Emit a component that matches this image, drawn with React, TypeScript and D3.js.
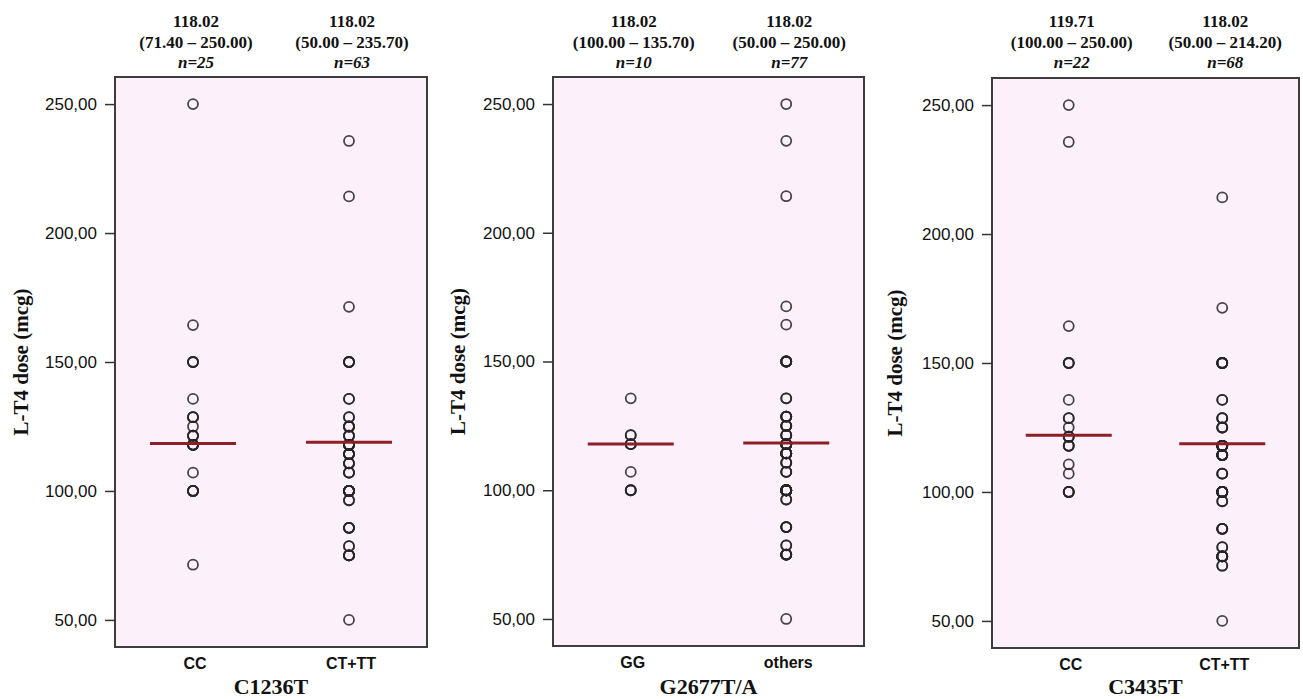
import React, { useEffect, useRef } from "react";
import * as d3 from "d3";

// ---- data ----
const panelTitles = ["C1236T", "G2677T/A", "C3435T"];
const groupLabels = [
  ["CC", "CT+TT"],
  ["GG", "others"],
  ["CC", "CT+TT"],
];
const headerMedians = [
  ["118.02", "118.02"],
  ["118.02", "118.02"],
  ["119.71", "118.02"],
];
const headerRanges = [
  ["(71.40 – 250.00)", "(50.00 – 235.70)"],
  ["(100.00 – 135.70)", "(50.00 – 250.00)"],
  ["(100.00 – 250.00)", "(50.00 – 214.20)"],
];
const headerN = [
  ["n=25", "n=63"],
  ["n=10", "n=77"],
  ["n=22", "n=68"],
];
// median line positions as drawn
const medianLines = [
  [118.4, 118.9],
  [118.0, 118.3],
  [122.0, 118.7],
];

const c1236CC = [250, 164.3, 150, 150, 150, 135.7, 128.6, 128.6, 128.6, 125, 121.4, 121.4, 121.4,
  117.9, 117.9, 117.9, 117.9, 117.9, 107.1, 100, 100, 100, 100, 100, 71.4];
const c1236CTTT = [235.7, 214.2, 171.4, 150, 150, 150, 150, 135.7, 135.7, 128.6, 128.6,
  125, 125, 125, 125, 121.4, 121.4, 121.4, 117.9, 117.9, 117.9, 117.9, 117.9, 117.9, 117.9, 117.9,
  114.3, 114.3, 114.3, 114.3, 114.3, 114.3, 110.7, 110.7, 110.7, 107.1, 107.1, 107.1,
  100, 100, 100, 100, 100, 100, 100, 100, 100, 100, 100, 96.4, 96.4,
  85.7, 85.7, 85.7, 85.7, 78.6, 78.6, 75, 75, 75, 75, 75, 50];
const g2677GG = [135.7, 121.4, 121.4, 117.9, 117.9, 117.9, 107.1, 100, 100, 100];
const g2677Others = [250, 235.7, 214.2, 171.4, 164.3, 150, 150, 150, 150, 150, 150,
  135.7, 135.7, 128.6, 128.6, 128.6, 128.6, 128.6, 125, 125, 125, 125, 121.4, 121.4, 121.4,
  117.9, 117.9, 117.9, 117.9, 117.9, 117.9, 117.9, 117.9, 117.9, 117.9,
  114.3, 114.3, 114.3, 114.3, 114.3, 114.3, 114.3, 114.3, 110.7, 110.7, 110.7, 107.1, 107.1, 107.1,
  100, 100, 100, 100, 100, 100, 100, 100, 100, 100, 100, 100, 100, 96.4, 96.4,
  85.7, 85.7, 85.7, 85.7, 78.6, 78.6, 75, 75, 75, 75, 75, 75, 50];
const c3435CC = [250, 235.7, 164.3, 150, 150, 150, 135.7, 128.6, 128.6, 125, 121.4, 121.4, 121.4,
  117.9, 117.9, 117.9, 110.7, 107.1, 100, 100, 100, 100];
const c3435CTTT = [214.2, 171.4, 150, 150, 150, 150, 150, 150, 135.7, 135.7, 128.6, 128.6, 128.6,
  125, 125, 125, 117.9, 117.9, 117.9, 117.9, 117.9, 117.9, 117.9, 117.9, 117.9, 117.9,
  114.3, 114.3, 114.3, 114.3, 114.3, 114.3, 114.3, 114.3, 114.3, 107.1, 107.1, 107.1,
  100, 100, 100, 100, 100, 100, 100, 100, 100, 100, 100, 100, 96.4, 96.4,
  85.7, 85.7, 85.7, 85.7, 78.6, 78.6, 75, 75, 75, 75, 75, 75, 75, 71.4, 71.4, 50];

const groupValues = [
  [c1236CC, c1236CTTT],
  [g2677GG, g2677Others],
  [c3435CC, c3435CTTT],
];
const yTicks = [50, 100, 150, 200, 250];

// ---- layout (pixels) ----
const W = 1303;
const H = 699;
const boxes = [
  { l: 115, r: 427, t: 77, b: 647, lab: 28 },
  { l: 553, r: 864, t: 77, b: 646, lab: 465 },
  { l: 992, r: 1299, t: 78, b: 648, lab: 902 },
];

const serif = "'Liberation Serif', 'Times New Roman', serif";
const sans = "'Liberation Sans', Arial, sans-serif";
const commaFmt = d3.formatLocale({ decimal: ",", thousands: ".", grouping: [3], currency: ["", ""] }).format(".2f");

export default function App() {
  const ref = useRef<SVGSVGElement>(null);

  useEffect(() => {
    const node = ref.current;
    if (!node) return;
    const svg = d3.select(node);
    svg.selectAll("*").remove();

    boxes.forEach((bx, pi) => {
      const g = svg.append("g");
      const x = d3.scalePoint<string>().domain(groupLabels[pi]).range([bx.l, bx.r]).padding(0.5);
      const y = d3.scaleLinear().domain([39.5, 260.5]).range([bx.b, bx.t]);

      // plot background + frame
      g.append("rect")
        .attr("x", bx.l)
        .attr("y", bx.t)
        .attr("width", bx.r - bx.l)
        .attr("height", bx.b - bx.t)
        .attr("fill", "#fcf0fa")
        .attr("stroke", "#3d3d3d")
        .attr("stroke-width", 2);

      // y axis
      const ax = g.append("g")
        .attr("transform", `translate(${bx.l},0)`)
        .call(d3.axisLeft(y).tickValues(yTicks).tickSize(10).tickPadding(8).tickFormat(d => commaFmt(d as number)));
      ax.select(".domain").remove();
      ax.selectAll("line").attr("stroke", "#333").attr("stroke-width", 1.5);
      ax.selectAll("text")
        .attr("font-family", sans)
        .attr("font-size", 17)
        .attr("fill", "#111");

      // y label
      g.append("text")
        .attr("transform", `translate(${bx.lab},${(bx.t + bx.b) / 2}) rotate(-90)`)
        .attr("text-anchor", "middle")
        .attr("font-family", serif)
        .attr("font-weight", "bold")
        .attr("font-size", 21)
        .attr("fill", "#111")
        .text("L-T4 dose (mcg)");

      groupLabels[pi].forEach((cat, gi) => {
        const cx = x(cat) as number;

        // points
        g.selectAll(`circle.p${gi}`)
          .data(groupValues[pi][gi])
          .enter()
          .append("circle")
          .attr("class", `p${gi}`)
          .attr("cx", cx)
          .attr("cy", d => y(d))
          .attr("r", 5)
          .attr("fill", "none")
          .attr("stroke", "#262626")
          .attr("stroke-opacity", 0.85)
          .attr("stroke-width", 1.8);

        // median line
        g.append("line")
          .attr("x1", cx - 43)
          .attr("x2", cx + 43)
          .attr("y1", y(medianLines[pi][gi]))
          .attr("y2", y(medianLines[pi][gi]))
          .attr("stroke", "#8e1f26")
          .attr("stroke-width", 3);

        // header text above plot
        const hx = cx + 3;
        const header = [headerMedians[pi][gi], headerRanges[pi][gi], headerN[pi][gi]];
        header.forEach((t, li) => {
          g.append("text")
            .attr("x", hx)
            .attr("y", 27 + li * 20.5)
            .attr("text-anchor", "middle")
            .attr("font-family", serif)
            .attr("font-weight", "bold")
            .attr("font-style", li === 2 ? "italic" : "normal")
            .attr("font-size", 17)
            .attr("fill", "#111")
            .text(t);
        });

        // category label
        g.append("text")
          .attr("x", cx + 2)
          .attr("y", bx.b + 22)
          .attr("text-anchor", "middle")
          .attr("font-family", sans)
          .attr("font-weight", "bold")
          .attr("font-size", 16)
          .attr("fill", "#111")
          .text(cat);
      });

      // panel title
      g.append("text")
        .attr("x", (bx.l + bx.r) / 2)
        .attr("y", 694)
        .attr("text-anchor", "middle")
        .attr("font-family", serif)
        .attr("font-weight", "bold")
        .attr("font-size", 22)
        .attr("fill", "#111")
        .text(panelTitles[pi]);
    });
  }, []);

  return (
    <svg
      ref={ref}
      width={W}
      height={H}
      style={{ position: "absolute", left: 0, top: 0, background: "#fff" }}
    />
  );
}
